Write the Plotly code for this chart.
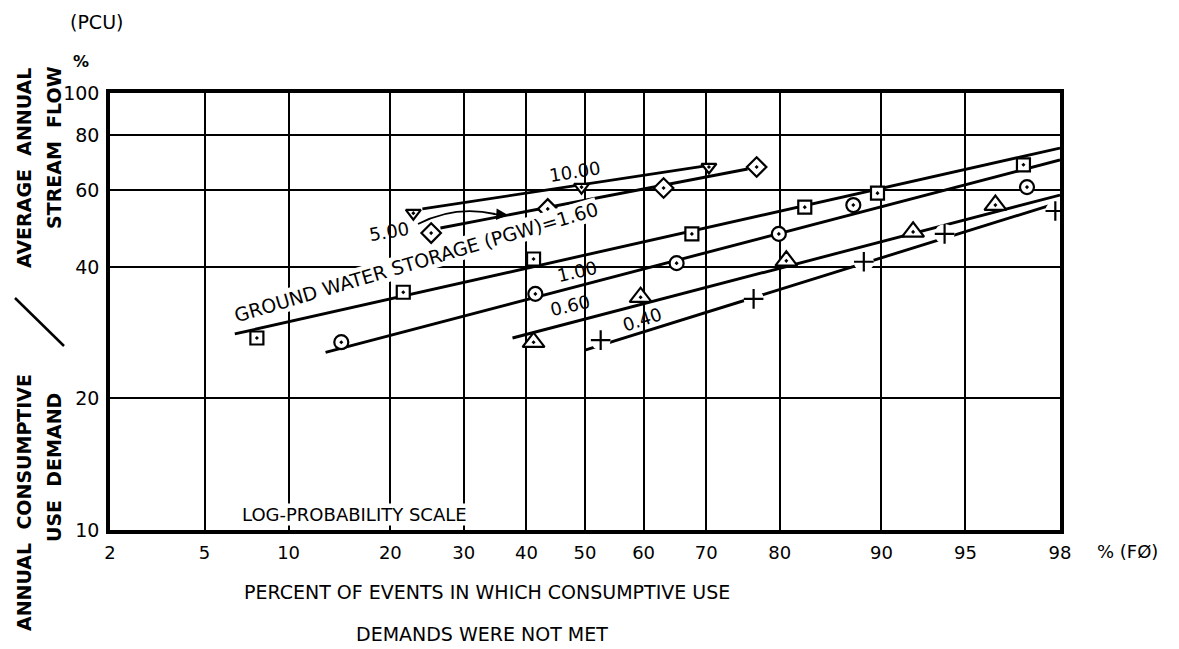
import plotly.graph_objects as go
from statistics import NormalDist

nd = NormalDist()

def z(p):
    return nd.inv_cdf(p / 100.0)

# ---- axis ticks ----
x_ticks = [2, 5, 10, 20, 30, 40, 50, 60, 70, 80, 90, 95, 98]
x_ticktext = ["2", "5", "10", "20", "30", "40", "50", "60", "70", "80", "90", "95", "98"]
y_ticks = [10, 20, 40, 60, 80, 100]
y_ticktext = ["10", "20", "40", "60", "80", "100"]

# ---- data points (percent of events, PCU %) ----
pgw160_x = [7.8, 21.6, 41.2, 67.8, 82.9, 89.7, 97.1]
pgw160_y = [27.5, 35.0, 41.7, 47.6, 54.8, 59.0, 68.5]
pgw100_x = [14.6, 41.5, 65.4, 79.9, 87.7, 97.2]
pgw100_y = [26.9, 34.7, 40.8, 47.6, 55.4, 60.9]
pgw060_x = [41.2, 59.5, 80.8, 92.2, 96.2]
pgw060_y = [26.9, 34.1, 41.3, 48.1, 55.4]
pgw040_x = [52.7, 76.7, 88.6, 94.0, 97.9]
pgw040_y = [27.2, 33.8, 41.1, 47.6, 53.7]
pgw500_x = [25.3, 43.6, 63.3, 77.1]
pgw500_y = [47.8, 54.3, 60.6, 67.7]
pgw1000_x = [22.9, 49.4, 70.4]
pgw1000_y = [53.1, 60.9, 67.7]

# ---- fitted lines (end points) ----
fit160_x = [6.5, 98.0]
fit160_y = [28.1, 74.8]
fit100_x = [13.1, 98.0]
fit100_y = [25.5, 70.3]
fit060_x = [37.7, 98.0]
fit060_y = [27.5, 58.4]
fit040_x = [50.0, 97.8]
fit040_y = [25.8, 55.4]
fit500_x = [26.6, 75.9]
fit500_y = [49.1, 67.0]
fit1000_x = [24.1, 69.9]
fit1000_y = [54.3, 68.1]

W, H = 1179, 649
L, R, T, B = 110, 1060, 93, 530

def px(xp):
    return (xp - L) / (R - L)

def py(yp):
    return (B - yp) / (B - T)

FONT = "DejaVu Sans"
fig = go.Figure()

lines = [
    (fit160_x, fit160_y),
    (fit100_x, fit100_y),
    (fit060_x, fit060_y),
    (fit040_x, fit040_y),
    (fit500_x, fit500_y),
    (fit1000_x, fit1000_y),
]
for xs, ys in lines:
    fig.add_trace(go.Scatter(x=[z(v) for v in xs], y=ys, mode="lines",
                             line=dict(color="black", width=2.9),
                             showlegend=False, hoverinfo="skip"))

series = [
    (pgw160_x, pgw160_y, "square-dot", 13),
    (pgw100_x, pgw100_y, "circle-dot", 14),
    (pgw060_x, pgw060_y, "triangle-up-dot", 19),
    (pgw500_x, pgw500_y, "diamond-dot", 15),
    (pgw1000_x, pgw1000_y, "triangle-down-dot", 13),
]
for xs, ys, sym, sz in series:
    fig.add_trace(go.Scatter(x=[z(v) for v in xs], y=ys, mode="markers",
                             marker=dict(symbol=sym, size=sz, color="white",
                                         line=dict(color="black", width=2.2)),
                             showlegend=False))
# white halo that breaks the 0.40 line around its "+" points
fig.add_trace(go.Scatter(x=[z(v) for v in pgw040_x], y=pgw040_y, mode="markers",
                         marker=dict(symbol="circle", size=20, color="white",
                                     line=dict(width=0)),
                         showlegend=False, hoverinfo="skip"))
fig.add_trace(go.Scatter(x=[z(v) for v in pgw040_x], y=pgw040_y, mode="markers",
                         marker=dict(symbol="cross-thin", size=14, color="black",
                                     line=dict(color="black", width=2.2)),
                         showlegend=False))

ann = []
def text(xp, yp, s, size=16, angle=0, bg=None, xanchor="center"):
    d = dict(x=px(xp), y=py(yp), xref="paper", yref="paper", text=s,
             showarrow=False, textangle=angle, xanchor=xanchor, yanchor="middle",
             font=dict(family=FONT, size=size, color="black"))
    if bg:
        d["bgcolor"] = bg
        d["borderpad"] = 0
    ann.append(d)

text(575, 171, "10.00", 18, -9)
text(389, 231, "5.00", 18, -10)
text(416, 262, "GROUND WATER STORAGE (PGW)=1.60", 19, -16.5, bg="white")
text(577, 271, "1.00", 18, -13)
text(570, 305, "0.60", 18, -13)
text(642, 319, "0.40", 18, -18)
text(354, 514, "LOG-PROBABILITY SCALE", 18, 0, bg="white")
text(1127, 551, "% (FØ)", 18, 0)
text(487, 592, "PERCENT OF EVENTS IN WHICH CONSUMPTIVE USE", 19)
text(482, 634, "DEMANDS WERE NOT MET", 19)
text(96, 22, "(PCU)", 19)
text(81, 62, "<b>%</b>", 16)
text(24, 168, "<b>AVERAGE  ANNUAL</b>", 19, -90)
text(24, 503, "<b>ANNUAL  CONSUMPTIVE</b>", 19, -90)
text(54, 148, "<b>STREAM  FLOW</b>", 19, -90)
text(54, 468, "<b>USE  DEMAND</b>", 19, -90)

# arrow head of the curved pointer from "5.00" to its line
ann.append(dict(x=px(508), y=py(215), ax=-16, ay=-1, xref="paper", yref="paper",
                text="", showarrow=True,
                arrowhead=2, arrowsize=1.3, arrowwidth=1.8, arrowcolor="black"))

shapes = [
    dict(type="path", xref="paper", yref="paper",
         path=f"M {px(418)},{py(224)} Q {px(455)},{py(205)} {px(495)},{py(214)}",
         line=dict(color="black", width=1.8)),
    dict(type="line", xref="paper", yref="paper", x0=px(15), y0=py(298), x1=px(64), y1=py(346),
         line=dict(color="black", width=2.5)),
]

fig.update_layout(
    width=W, height=H,
    margin=dict(l=L, r=W - R, t=T, b=H - B),
    paper_bgcolor="white", plot_bgcolor="white",
    annotations=ann, shapes=shapes,
    font=dict(family=FONT, size=16, color="black"),
    xaxis=dict(range=[z(2), z(98)], tickvals=[z(v) for v in x_ticks], ticktext=x_ticktext,
               showgrid=True, gridcolor="black", gridwidth=1.5, zeroline=False,
               showline=True, linecolor="black", linewidth=3.5, mirror=True,
               ticks="", ticklabelstandoff=4, tickfont=dict(family=FONT, size=18)),
    yaxis=dict(type="log", range=[1, 2], tickvals=y_ticks, ticktext=y_ticktext,
               showgrid=True, gridcolor="black", gridwidth=1.5, zeroline=False,
               showline=True, linecolor="black", linewidth=3.5, mirror=True,
               ticks="", ticklabelstandoff=3, tickfont=dict(family=FONT, size=19)),
)

fig.write_html("out.html")
